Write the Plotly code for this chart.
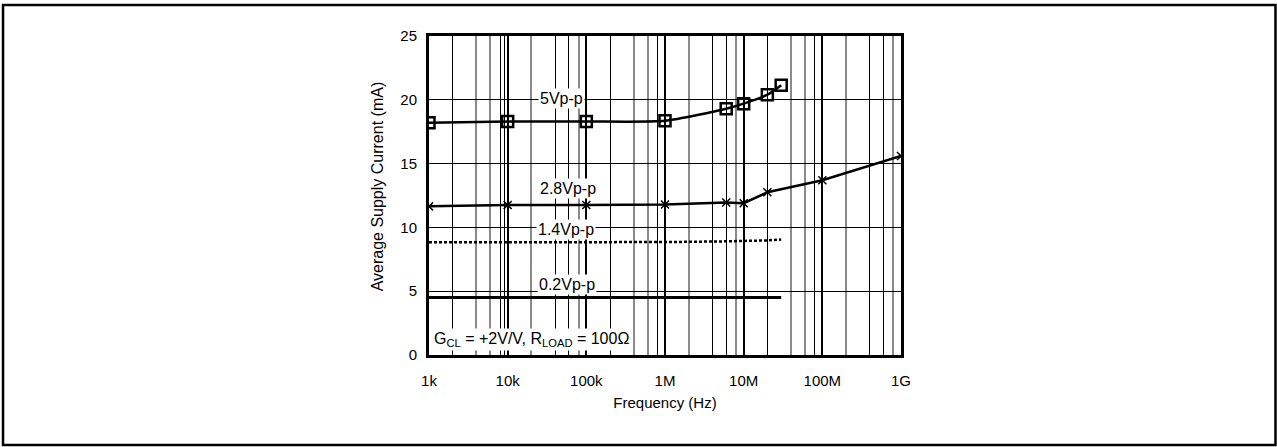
import plotly.graph_objects as go

# data
freq_5v = [1e3, 1e4, 1e5, 1e6, 6e6, 1e7, 2e7, 3e7]
curr_5v = [18.2, 18.3, 18.3, 18.35, 19.3, 19.7, 20.4, 21.15]

freq_28v = [1e3, 1e4, 1e5, 1e6, 6e6, 1e7, 2e7, 1e8, 1e9]
curr_28v = [11.65, 11.75, 11.75, 11.8, 11.95, 11.9, 12.75, 13.7, 15.6]

freq_14v = [1e3, 1e5, 1e6, 5e6, 1e7, 2e7, 3e7]
curr_14v = [8.83, 8.83, 8.85, 8.9, 8.93, 8.98, 9.05]

freq_02v = [1e3, 3e7]
curr_02v = [4.5, 4.5]

decade_vals = [1e3, 1e4, 1e5, 1e6, 1e7, 1e8, 1e9]
decade_text = ["1k", "10k", "100k", "1M", "10M", "100M", "1G"]
y_ticks = [0, 5, 10, 15, 20, 25]

FONT = "Liberation Sans, Arial, sans-serif"

# minor grid: 2,4,6,8 per decade, colours alternate between decades
gray_minor = []
black_minor = [9e3]
for i, dec in enumerate(decade_vals[:-1]):
    if i % 2 == 0:
        black_minor += [2 * dec, 8 * dec]
        gray_minor += [4 * dec, 6 * dec]
    else:
        gray_minor += [2 * dec, 8 * dec]
        black_minor += [4 * dec, 6 * dec]

fig = go.Figure()

fig.add_trace(go.Scatter(
    x=freq_02v, y=curr_02v, mode="lines",
    line=dict(color="black", width=3), name="0.2Vp-p"))
fig.add_trace(go.Scatter(
    x=freq_14v, y=curr_14v, mode="lines",
    line=dict(color="black", width=2.5, dash="3px,2px"), name="1.4Vp-p"))
fig.add_trace(go.Scatter(
    x=freq_28v, y=curr_28v, mode="lines+markers",
    line=dict(color="black", width=2.5),
    marker=dict(symbol="x-thin", size=8, line=dict(color="black", width=1.5)),
    name="2.8Vp-p"))
fig.add_trace(go.Scatter(
    x=freq_5v, y=curr_5v, mode="lines+markers",
    line=dict(color="black", width=2.5, shape="spline", smoothing=0.6),
    marker=dict(symbol="square-open", size=11, color="black", line=dict(width=2.5)),
    name="5Vp-p"))

# second x axis only carries the black minor grid lines
fig.add_trace(go.Scatter(x=[1e3], y=[0], xaxis="x2", mode="markers",
                         marker=dict(opacity=0), showlegend=False, hoverinfo="skip"))

labels = [
    ("5Vp-p", 4.68, 20.1),
    ("2.8Vp-p", 4.77, 13.06),
    ("1.4Vp-p", 4.74, 9.85),
    ("0.2Vp-p", 4.756, 5.56),
]
for txt, lx, ly in labels:
    fig.add_annotation(x=lx, y=ly, text=txt, showarrow=False,
                       font=dict(size=16, color="black", family=FONT),
                       bgcolor="white", borderpad=1)

fig.add_annotation(x=3.04, y=1.2, xanchor="left", showarrow=False,
                   text="G<sub>CL</sub> = +2V/V, R<sub>LOAD</sub> = 100Ω",
                   font=dict(size=16, color="black", family=FONT),
                   bgcolor="white", borderpad=1)

fig.add_annotation(x=-0.1294, y=0.53, xref="paper", yref="paper", showarrow=False,
                   text="Average Supply Current (mA)", textangle=-90,
                   font=dict(size=16, color="black", family=FONT))

# outer frame
fig.add_shape(type="rect", xref="paper", yref="paper",
              x0=-0.9025, x1=1.7934, y0=-0.2821, y1=1.0972,
              line=dict(color="black", width=2.5))

fig.update_layout(
    width=1277, height=447,
    margin=dict(l=429, r=376, t=36, b=92),
    paper_bgcolor="white", plot_bgcolor="white",
    showlegend=False,
    font=dict(family=FONT, size=15, color="black"),
    xaxis=dict(
        type="log", range=[3, 9],
        tickmode="array", tickvals=decade_vals, ticktext=decade_text,
        showgrid=True, gridcolor="black", gridwidth=2,
        minor=dict(tickmode="array", tickvals=gray_minor, showgrid=True,
                   gridcolor="#8a8a8a", gridwidth=1.5, ticks=""),
        showline=True, linecolor="black", linewidth=3, mirror=True,
        ticks="", ticklabelstandoff=10, zeroline=False,
        title=dict(text="Frequency (Hz)", standoff=10, font=dict(size=15)),
    ),
    xaxis2=dict(
        type="log", range=[3, 9], overlaying="x", matches="x",
        tickmode="array", tickvals=black_minor, showticklabels=False,
        showgrid=True, gridcolor="black", gridwidth=1, showline=False,
        zeroline=False, ticks="",
    ),
    yaxis=dict(
        range=[0, 25], tickmode="array", tickvals=y_ticks,
        showgrid=True, gridcolor="black", gridwidth=1,
        showline=True, linecolor="black", linewidth=3, mirror=True,
        ticks="", ticklabelstandoff=6, zeroline=False,
    ),
)

# page body has an 8px default margin; drop it so the figure sits at 0,0
fig.write_html("out.html", config={"displayModeBar": False},
               post_script="document.body.style.margin='0';")
